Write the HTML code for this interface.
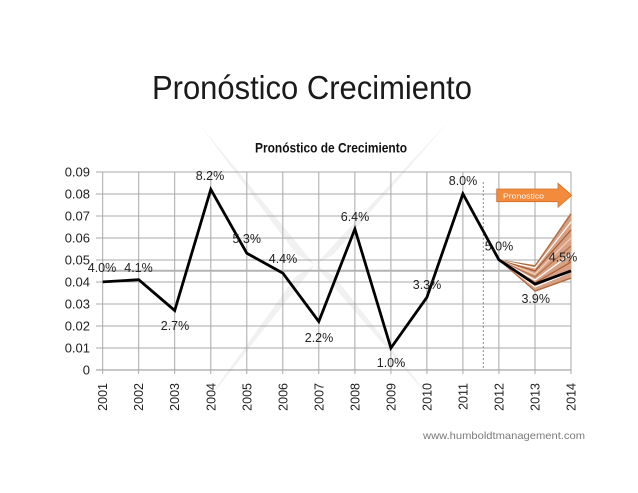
<!DOCTYPE html>
<html>
<head>
<meta charset="utf-8">
<style>
html,body{margin:0;padding:0;background:#fff;}
svg{display:block;}
text{font-family:"Liberation Sans",sans-serif;}
</style>
</head>
<body>
<svg width="638" height="493" viewBox="0 0 638 493" xmlns="http://www.w3.org/2000/svg">
<rect width="638" height="493" fill="#fff"/>
<!-- watermark -->
<g fill="#f1f1f1">
<polygon points="315,265 200,125 296,254"/>
<polygon points="315,265 450,120 334,254"/>
<polygon points="315,265 200,410 296,276"/>
<polygon points="315,265 440,410 334,276"/>
</g>
<!-- title -->
<text x="152" y="99" font-size="33.5" fill="#1a1a1a" textLength="320" lengthAdjust="spacingAndGlyphs">Pronóstico Crecimiento</text>
<text x="255" y="152.5" font-size="14" font-weight="bold" fill="#111" textLength="152" lengthAdjust="spacingAndGlyphs">Pronóstico de Crecimiento</text>
<!-- gridlines horizontal -->
<g stroke="#a8a8a8" stroke-width="1">
<line x1="96" y1="172" x2="571" y2="172"/>
<line x1="96" y1="194" x2="571" y2="194"/>
<line x1="96" y1="216" x2="571" y2="216"/>
<line x1="96" y1="238" x2="571" y2="238"/>
<line x1="96" y1="260" x2="571" y2="260"/>
<line x1="96" y1="282" x2="571" y2="282"/>
<line x1="96" y1="304" x2="571" y2="304"/>
<line x1="96" y1="326" x2="571" y2="326"/>
<line x1="96" y1="348" x2="571" y2="348"/>
<line x1="96" y1="370" x2="571" y2="370" stroke="#909090"/>
</g>
<!-- gridlines vertical -->
<g stroke="#a8a8a8" stroke-width="1">
<line x1="102.7" y1="172" x2="102.7" y2="374"/>
<line x1="138.7" y1="172" x2="138.7" y2="374"/>
<line x1="174.7" y1="172" x2="174.7" y2="374"/>
<line x1="210.8" y1="172" x2="210.8" y2="374"/>
<line x1="246.8" y1="172" x2="246.8" y2="374"/>
<line x1="282.8" y1="172" x2="282.8" y2="374"/>
<line x1="318.8" y1="172" x2="318.8" y2="374"/>
<line x1="354.9" y1="172" x2="354.9" y2="374"/>
<line x1="390.9" y1="172" x2="390.9" y2="374"/>
<line x1="426.9" y1="172" x2="426.9" y2="374"/>
<line x1="462.9" y1="172" x2="462.9" y2="374"/>
<line x1="498.9" y1="172" x2="498.9" y2="374"/>
<line x1="535" y1="172" x2="535" y2="374"/>
<line x1="571" y1="172" x2="571" y2="374"/>
</g>
<!-- average line -->
<line x1="102.7" y1="270.8" x2="571" y2="270.8" stroke="#b4b4b4" stroke-width="2"/>
<!-- dashed separator -->
<line x1="483.3" y1="182" x2="483.3" y2="370" stroke="#8a8a8a" stroke-width="1" stroke-dasharray="2,2"/>
<!-- y labels -->
<g font-size="13" fill="#222" text-anchor="end">
<text x="90" y="176.5">0.09</text>
<text x="90" y="198.5">0.08</text>
<text x="90" y="220.5">0.07</text>
<text x="90" y="242.5">0.06</text>
<text x="90" y="264.5">0.05</text>
<text x="90" y="286.5">0.04</text>
<text x="90" y="308.5">0.03</text>
<text x="90" y="330.5">0.02</text>
<text x="90" y="352.5">0.01</text>
<text x="90" y="374.5">0</text>
</g>
<!-- x labels -->
<g font-size="12.5" fill="#222" text-anchor="end">
<text transform="translate(107.2,383) rotate(-90)">2001</text>
<text transform="translate(143.2,383) rotate(-90)">2002</text>
<text transform="translate(179.2,383) rotate(-90)">2003</text>
<text transform="translate(215.3,383) rotate(-90)">2004</text>
<text transform="translate(251.3,383) rotate(-90)">2005</text>
<text transform="translate(287.3,383) rotate(-90)">2006</text>
<text transform="translate(323.3,383) rotate(-90)">2007</text>
<text transform="translate(359.4,383) rotate(-90)">2008</text>
<text transform="translate(395.4,383) rotate(-90)">2009</text>
<text transform="translate(431.4,383) rotate(-90)">2010</text>
<text transform="translate(467.4,383) rotate(-90)">2011</text>
<text transform="translate(503.4,383) rotate(-90)">2012</text>
<text transform="translate(539.5,383) rotate(-90)">2013</text>
<text transform="translate(575.5,383) rotate(-90)">2014</text>
</g>
<!-- forecast fan -->
<polygon points="498.9,259.8 535,265 571,212 571,279 535,292" fill="#d6a184"/>
<g fill="none" stroke-width="1.2">
<polyline points="498.9,259.8 535,266 571,214" stroke="#b06a40"/>
<polyline points="498.9,259.8 535,268 571,222" stroke="#fff"/>
<polyline points="498.9,259.8 535,271 571,230" stroke="#a85c38"/>
<polyline points="498.9,259.8 535,274 571,238" stroke="#f3d2bc"/>
<polyline points="498.9,259.8 535,277 571,246" stroke="#b8704a"/>
<polyline points="498.9,259.8 535,280 571,254" stroke="#fff"/>
<polyline points="498.9,259.8 535,283 571,262" stroke="#a85c38"/>
<polyline points="498.9,259.8 535,287 571,272" stroke="#fff"/>
<polyline points="498.9,259.8 535,291 571,278" stroke="#b06a40"/>
</g>
<!-- arrow -->
<polygon points="496.7,189 558,189 558,183.3 571.7,195.3 558,207.3 558,201.7 496.7,201.7" fill="#f28b3c" stroke="#d0702a" stroke-width="0.8"/>
<text x="503" y="198.5" font-size="7.5" fill="#fff" textLength="41" lengthAdjust="spacingAndGlyphs">Pronostico</text>
<!-- main series -->
<polyline fill="none" stroke="#000" stroke-width="2.8" stroke-linejoin="miter" points="102.7,281.9 138.7,279.7 174.7,310.5 210.8,189.4 246.8,253.2 282.8,273.1 318.8,321.5 354.9,229 390.9,348 426.9,297.3 462.9,193.8 498.9,259.8 535,284.1 571,270.9"/>
<!-- data labels -->
<g font-size="12.5" fill="#222" text-anchor="middle">
<text x="102" y="272">4.0%</text>
<text x="138.5" y="272">4.1%</text>
<text x="175" y="330">2.7%</text>
<text x="210" y="180">8.2%</text>
<text x="246.7" y="243">5.3%</text>
<text x="283" y="263">4.4%</text>
<text x="319" y="342">2.2%</text>
<text x="355" y="221">6.4%</text>
<text x="391" y="367">1.0%</text>
<text x="427" y="289">3.3%</text>
<text x="463" y="185">8.0%</text>
<text x="499" y="250.7">5.0%</text>
<text x="535.7" y="303">3.9%</text>
<text x="563" y="261.7">4.5%</text>
</g>
<!-- website -->
<text x="423" y="439" font-size="10.5" fill="#7a7a7a" textLength="162" lengthAdjust="spacingAndGlyphs">www.humboldtmanagement.com</text>
</svg>
</body>
</html>
